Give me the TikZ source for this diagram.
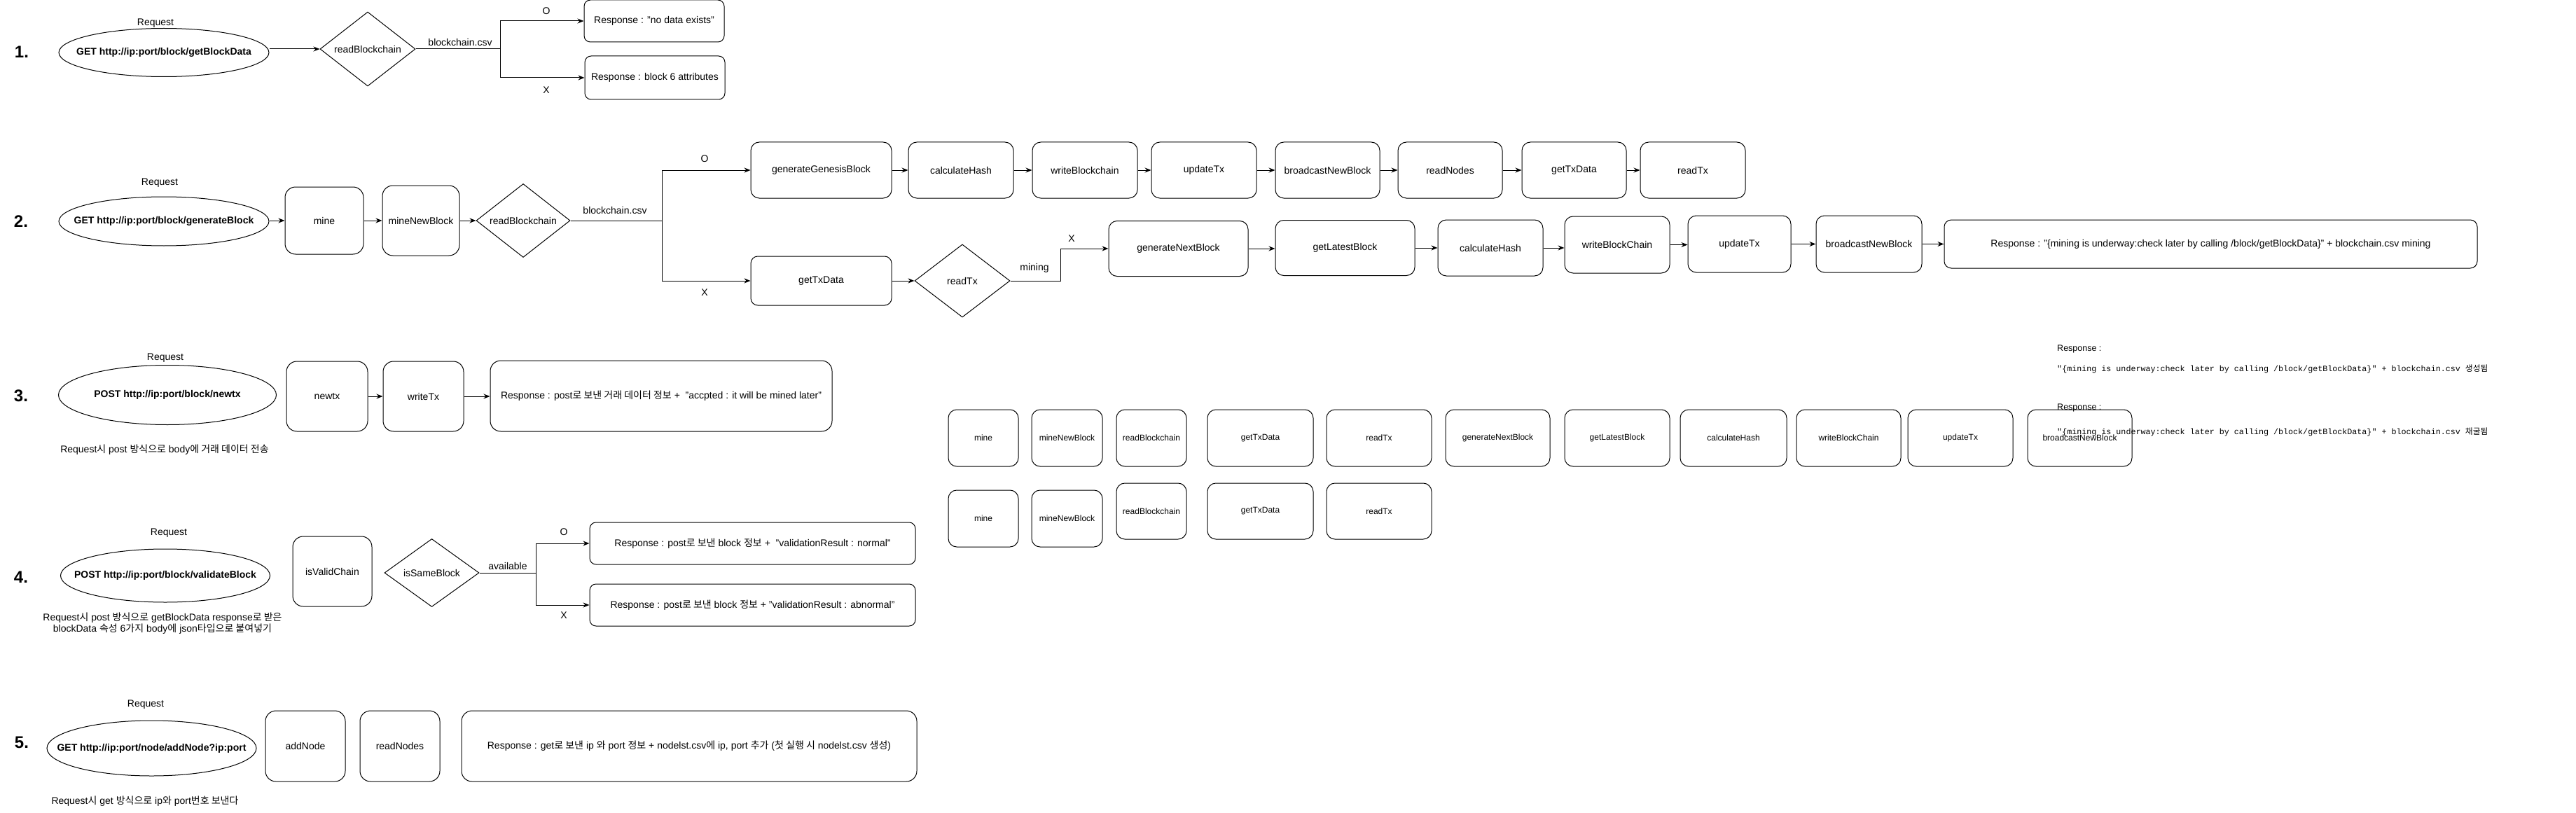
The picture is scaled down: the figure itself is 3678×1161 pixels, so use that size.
\documentclass[tikz,border=0pt]{standalone}
\usepackage{fontspec}
\setmainfont{Liberation Sans}
\newfontfamily\kr{Noto Sans CJK KR}
\newfontfamily\monof{Liberation Mono}
\usetikzlibrary{shapes.geometric,arrows.meta}
\begin{document}
\begin{tikzpicture}[x=1pt,y=-1pt, font=\fontsize{14pt}{16pt}\selectfont,
 wh/.style 2 args={minimum width=#1pt, minimum height=#2pt},
 bx/.style={draw, line width=1pt, rounded corners=#1, inner sep=0pt, align=center},
 bx/.default=12pt,
 dia/.style={draw, diamond, line width=1pt, inner sep=0pt, aspect=1.3},
 ell/.style={draw, ellipse, line width=1pt, inner sep=0pt},
 etxt/.style={font=\fontsize{14pt}{16pt}\selectfont\bfseries, inner sep=0pt},
 arr/.style={line width=1pt, -{Stealth[length=9pt,width=7pt]}},
 ln/.style={line width=1pt},
 num/.style={font=\fontsize{24pt}{28pt}\selectfont\bfseries},
 sm/.style={font=\fontsize{12pt}{14pt}\selectfont},
 note/.style={anchor=west, inner sep=0pt}
]
\fill[white] (0,0) rectangle (3678,1161);
\useasboundingbox (0,0) rectangle (3678,1161);

% ---------------- Row 1 ----------------
\node[num] (n1) at (31,74) {1.};
\node (q1) at (222,33) {Request};
\node[ell, wh={300}{69}] (e1) at (234,75) {};
\node[etxt] (e1t) at (e1.center) {GET http://ip:port/block/getBlockData};
\node[dia, wh={136}{106}] (d1) at (525,70) {readBlockchain};
\node[bx=9pt, wh={200}{60}] (r1a) at (934,30) {Response : "no data exists"};
\node[bx=9pt, wh={200}{62}] (r1b) at (935,111) {Response : block 6 attributes};
\coordinate (b1) at (714,70);
\draw[arr] (e1.east |- d1.west) -- (d1.west);
\draw[ln] (d1.east) -- (b1);
\draw[arr] (b1) |- (r1a.west);
\draw[arr] (b1) |- (r1b.west);
\node (l1) at (657,60) {blockchain.csv};
\node (o1) at (780,16) {O};
\node (x1) at (780,129) {X};

% ---------------- Row 2 ----------------
\node[num] (n2) at (30,316) {2.};
\node (q2) at (228,261) {Request};
\node[ell, wh={300}{70}] (e2) at (234,316) {};
\node[etxt] (e2t) at (e2.center) {GET http://ip:port/block/generateBlock};
\node[bx=15pt, wh={112}{96}] (mine) at (463,315) {mine};
\node[bx=15pt, wh={110}{100}] (mnb) at (601,315) {mineNewBlock};
\node[dia, wh={134}{105}] (d2) at (747,315) {readBlockchain};
\draw[arr] (e2.east |- mine.west) -- (mine.west);
\draw[arr] (mine.east) -- (mnb.west);
\draw[arr] (mnb.east) -- (d2.west);
\coordinate (b2) at (945,315);
\draw[ln] (d2.east) -- (b2);
\node (l2) at (878,300) {blockchain.csv};
\node (o2) at (1006,227) {O};
\node (x2) at (1006,418) {X};
\node[bx, wh={201}{80}] (ggb) at (1172.5,243) {generateGenesisBlock};
\node[bx=10pt, wh={201}{70}] (gtd) at (1172.5,401) {getTxData};
\draw[arr] (b2) |- (ggb.west);
\draw[arr] (b2) |- (gtd.west);
% top chain
\node[bx, wh={150}{80}] (ch1) at (1372,243) {calculateHash};
\node[bx, wh={150}{80}] (wb1) at (1549,243) {writeBlockchain};
\node[bx, wh={150}{80}] (ut1) at (1719,243) {updateTx};
\node[bx, wh={149}{80}] (bn1) at (1895.5,243) {broadcastNewBlock};
\node[bx, wh={149}{80}] (rn1) at (2070.5,243) {readNodes};
\node[bx, wh={149}{80}] (gt1) at (2247.5,243) {getTxData};
\node[bx, wh={150}{80}] (rt1) at (2417,243) {readTx};
\draw[arr] (ggb.east) -- (ch1.west);
\draw[arr] (ch1.east) -- (wb1.west);
\draw[arr] (wb1.east) -- (ut1.west);
\draw[arr] (ut1.east) -- (bn1.west);
\draw[arr] (bn1.east) -- (rn1.west);
\draw[arr] (rn1.east) -- (gt1.west);
\draw[arr] (gt1.east) -- (rt1.west);
% bottom chain
\node[dia, wh={136}{104}] (d3) at (1374,401) {readTx};
\draw[arr] (gtd.east) -- (d3.west);
\coordinate (m1) at (1514,401);
\node[bx, wh={199}{79}] (gnb) at (1682.5,355) {generateNextBlock};
\draw[arr] (d3.east) -- (m1) |- (gnb.west);
\node (lm) at (1477,383) {mining};
\node (x3) at (1530,341) {X};
\node[bx, wh={199}{79}] (glb) at (1920.5,354) {getLatestBlock};
\node[bx, wh={150}{80}] (ch2) at (2128,354) {calculateHash};
\node[bx, wh={150}{81}] (wb2) at (2309,349.5) {writeBlockChain};
\node[bx, wh={147}{81}] (ut2) at (2483.5,348.5) {updateTx};
\node[bx, wh={151}{81}] (bn2) at (2668.5,348.5) {broadcastNewBlock};
\node[bx=10pt, wh={761}{69}] (rs2) at (3156.5,348.5) {Response : "\{mining is underway:check later by calling /block/getBlockData\}" + blockchain.csv mining};
\draw[arr] (gnb.east) -- (gnb.east -| glb.west);
\draw[arr] (glb.east) -- (glb.east -| ch2.west);
\draw[arr] (ch2.east) -- (ch2.east -| wb2.west);
\draw[arr] (wb2.east) -- (wb2.east -| ut2.west);
\draw[arr] (ut2.east) -- (ut2.east -| bn2.west);
\draw[arr] (bn2.east) -- (bn2.east -| rs2.west);

% ---------------- Row 3 ----------------
\node[num] (n3) at (30,565) {3.};
\node (q3) at (236,511) {Request};
\node[ell, wh={311}{85}] (e3) at (239,564) {};
\node[etxt] (e3t) at (e3.center) {POST http://ip:port/block/newtx};
\node[bx=15pt, wh={116}{100}] (ntx) at (467,566) {newtx};
\node[bx=15pt, wh={115}{100}] (wtx) at (604.5,566) {writeTx};
\node[bx=15pt, wh={488}{101}] (rs3) at (944,565.5) {Response : post{\kr 로 보낸 거래 데이터 정보} +\ \ "accpted : it will be mined later"};
\draw[arr] (ntx.east) -- (wtx.west);
\draw[arr] (wtx.east) -- (wtx.east -| rs3.west);
\node (c3) at (235,642) {Request{\kr 시} post {\kr 방식으로} body{\kr 에 거래 데이터 전송}};

% ---------------- Row 4 ----------------
\node[num] (n4) at (30,824) {4.};
\node (q4) at (241,761) {Request};
\node[ell, wh={299}{76}] (e4) at (236,822) {};
\node[etxt] (e4t) at (e4.center) {POST http://ip:port/block/validateBlock};
\node[bx=15pt, wh={113}{100}] (ivc) at (474.5,816) {isValidChain};
\node[dia, wh={135}{97}] (d4) at (616.5,818) {isSameBlock};
\coordinate (b4) at (765,818);
\draw[ln] (d4.east) -- (b4);
\node[bx=9pt, wh={465}{60}] (r4a) at (1074.5,776) {Response : post{\kr 로 보낸} block {\kr 정보} +\ \ "validationResult : normal"};
\node[bx=9pt, wh={465}{60}] (r4b) at (1074.5,864) {Response : post{\kr 로 보낸} block {\kr 정보} + "validationResult : abnormal"};
\draw[arr] (b4) |- (r4a.west);
\draw[arr] (b4) |- (r4b.west);
\node (l4) at (725,808) {available};
\node (o4) at (805,760) {O};
\node (x4) at (805,879) {X};
\node[align=center] (c4) at (232,890) {Request{\kr 시} post {\kr 방식으로} getBlockData response{\kr 로 받은}\\blockData {\kr 속성} 6{\kr 가지} body{\kr 에} json{\kr 타입으로 붙여넣기}};

% ---------------- Row 5 ----------------
\node[num] (n5) at (31,1060) {5.};
\node (q5) at (208,1006) {Request};
\node[ell, wh={299}{79}] (e5) at (216.5,1068.5) {};
\node[etxt] (e5t) at (e5.center) {GET http://ip:port/node/addNode?ip:port};
\node[bx=15pt, wh={114}{101}] (adn) at (436,1065.5) {addNode};
\node[bx=15pt, wh={114}{101}] (rdn) at (571,1065.5) {readNodes};
\node[bx=15pt, wh={650}{101}] (rs5) at (984,1065.5) {Response : get{\kr 로 보낸} ip {\kr 와} port {\kr 정보} + nodelst.csv{\kr 에} ip, port {\kr 추가} ({\kr 첫 실행 시} nodelst.csv {\kr 생성})};
\node (c5) at (207,1144) {Request{\kr 시} get {\kr 방식으로} ip{\kr 와} port{\kr 번호 보낸다}};

% ---------------- Floating boxes ----------------
\node[bx, sm, wh={100}{81}] (fa1) at (1404,625.5) {mine};
\node[bx, sm, wh={101}{81}] (fa2) at (1523.5,625.5) {mineNewBlock};
\node[bx, sm, wh={100}{81}] (fa3) at (1644,625.5) {readBlockchain};
\node[bx, sm, wh={151}{81}] (fa4) at (1799.5,625.5) {getTxData};
\node[bx, sm, wh={150}{81}] (fa5) at (1969,625.5) {readTx};
\node[bx, sm, wh={149}{81}] (fa6) at (2138.5,625.5) {generateNextBlock};
\node[bx, sm, wh={150}{81}] (fa7) at (2309,625.5) {getLatestBlock};
\node[bx, sm, wh={152}{81}] (fa8) at (2475,625.5) {calculateHash};
\node[bx, sm, wh={149}{81}] (fa9) at (2639.5,625.5) {writeBlockChain};
\node[bx, sm, wh={150}{81}] (fa10) at (2799,625.5) {updateTx};
\node[bx, sm, wh={149}{81}] (fa11) at (2969.5,625.5) {broadcastNewBlock};
\node[bx, sm, wh={100}{81}] (fb1) at (1404,740.5) {mine};
\node[bx, sm, wh={101}{81}] (fb2) at (1523.5,740.5) {mineNewBlock};
\node[bx, sm, wh={100}{80}] (fb3) at (1644,730) {readBlockchain};
\node[bx, sm, wh={151}{80}] (fb4) at (1799.5,730) {getTxData};
\node[bx, sm, wh={150}{80}] (fb5) at (1969,730) {readTx};

% ---------------- Notes top right ----------------
\node[note, font=\fontsize{12.5pt}{14pt}\selectfont] (t1) at (2937,498) {Response :};
\node[note, font=\monof\fontsize{11.7pt}{14pt}\selectfont] (t2) at (2937,527) {"\{mining is underway:check later by calling /block/getBlockData\}" + blockchain.csv {\kr 생성됨}};
\node[note, font=\fontsize{12.5pt}{14pt}\selectfont] (t3) at (2937,582) {Response :};
\node[note, font=\monof\fontsize{11.7pt}{14pt}\selectfont] (t4) at (2937,617) {"\{mining is underway:check later by calling /block/getBlockData\}" + blockchain.csv {\kr 채굴됨}};
\end{tikzpicture}
\end{document}
